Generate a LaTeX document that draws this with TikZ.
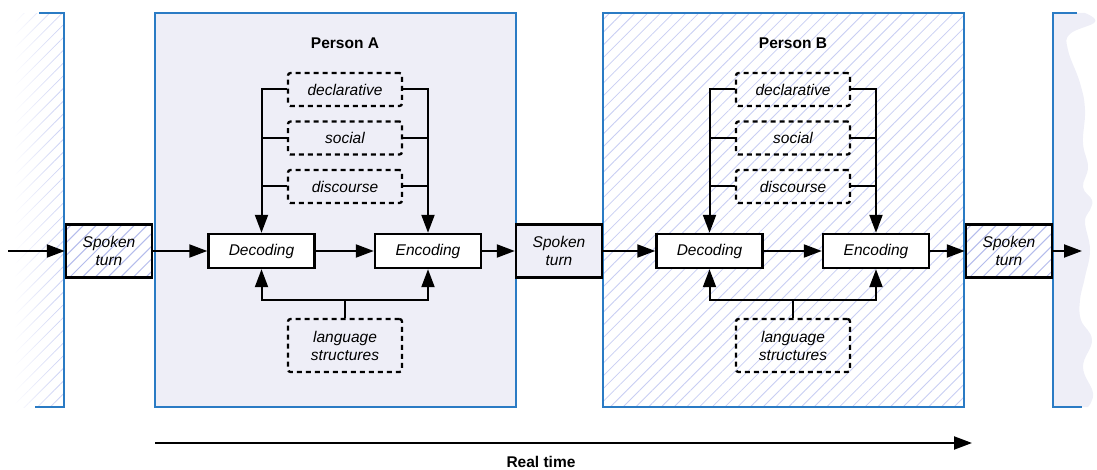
\documentclass[tikz,border=0pt]{standalone}
\usepackage{fontspec}
\setmainfont{Liberation Sans}
\usetikzlibrary{arrows.meta,patterns.meta,fadings}
\definecolor{bblue}{RGB}{42,123,196}
\definecolor{lav}{RGB}{238,238,247}
\definecolor{hatchc}{RGB}{200,206,243}
\definecolor{hatchd}{RGB}{180,188,236}
\newcommand\dfs{\fontsize{15.5}{18}\selectfont}
\tikzset{
  hatch/.style={pattern={Lines[angle=45,distance=9pt,line width=0.8pt]},pattern color=hatchc},
  hatchline/.style={draw=hatchd,line width=1pt},
  proc/.style={draw,line width=2.4pt,minimum width=106pt,minimum height=34pt,inner sep=0pt,font=\dfs\itshape,fill=white},
  turnbox/.style={draw,line width=2.4pt,minimum width=86pt,minimum height=53pt,inner sep=0pt,font=\dfs\itshape,align=center},
  infobox/.style={draw,dash pattern=on 5pt off 4pt,line width=2.3pt,rounded corners=2.5pt,minimum width=114pt,inner sep=0pt,font=\dfs\itshape,align=center},
  arr/.style={line width=2pt,-{Triangle[length=18pt,width=13pt]}},
  conn/.style={line width=2pt},
  personbox/.style={draw=bblue,line width=2.8pt},
  plabel/.style={font=\dfs\bfseries},
}
\begin{document}
\begin{tikzpicture}[x=1pt,y=-1pt]
\useasboundingbox (0,0) rectangle (1097,470);
% left partial box
\fill[hatch,path fading=west] (14,13) rectangle (64,407);
\draw[bblue,line width=2.8pt] (39,13) -- (64,13) -- (64,407) -- (35,407);
% right partial box
\fill[lav] (1054,13) -- (1085,13) -- plot[smooth,tension=0.7] coordinates {(1085,13) (1095,22) (1070,34) (1068,50) (1080,83) (1085,110) (1083,143) (1088,167) (1083,187) (1092,200) (1090,210) (1085,222) (1090,250) (1085,277) (1080,300) (1081,320) (1092,340) (1083,367) (1093,393) (1088,407)} -- (1054,407) -- cycle;
\draw[bblue,line width=2.8pt] (1077,13) -- (1053,13) -- (1053,407) -- (1082,407);
% person boxes
\fill[lav] (155,13) rectangle (516,407);
\draw[personbox] (155,13) rectangle (516,407);
\fill[white] (603,13) rectangle (964,407);
\fill[hatch] (603,13) rectangle (964,407);
\draw[personbox] (603,13) rectangle (964,407);
\node[plabel] (pA) at (345,43) {Person A};
\node[plabel] (pB) at (793,43) {Person B};
% hatch behind the outer spoken turns
\foreach \cx in {109,1009}{
  \begin{scope}
    \clip (\cx-43,224.5) rectangle (\cx+43,277.5);
    \fill[white] (\cx-43,224.5) rectangle (\cx+43,277.5);
    \foreach \k in {-60,-47.3,...,100}
      \draw[hatchline] (\cx-43+\k,277.5) -- ++(60,-60);
  \end{scope}
}
% spoken turns
\node[turnbox] (st1) at (109,251) {Spoken\\turn};
\node[turnbox,fill=lav] (st2) at (559,251) {Spoken\\turn};
\node[turnbox] (st3) at (1009,251) {Spoken\\turn};
% person A
\node[proc] (decA) at (261.5,251) {Decoding};
\node[proc] (encA) at (428,251) {Encoding};
\node[infobox,minimum height=33pt] (dclA) at (345,89.5) {declarative};
\node[infobox,minimum height=33pt] (socA) at (345,138) {social};
\node[infobox,minimum height=33pt] (disA) at (345,186.5) {discourse};
\node[infobox,minimum height=53pt] (lngA) at (345,345.5) {language\\structures};
% person B
\node[proc] (decB) at (709.5,251) {Decoding};
\node[proc] (encB) at (876,251) {Encoding};
\node[infobox,minimum height=33pt] (dclB) at (793,89.5) {declarative};
\node[infobox,minimum height=33pt] (socB) at (793,138) {social};
\node[infobox,minimum height=33pt] (disB) at (793,186.5) {discourse};
\node[infobox,minimum height=53pt] (lngB) at (793,345.5) {language\\structures};
% flow
\coordinate (in0) at (8,251);
\coordinate (out0) at (1082,251);
\draw[arr] (in0) -- (st1.west);
\draw[arr] (st1.east) -- (decA.west);
\draw[arr] (decA.east) -- (encA.west);
\draw[arr] (encA.east) -- (st2.west);
\draw[arr] (st2.east) -- (decB.west);
\draw[arr] (decB.east) -- (encB.west);
\draw[arr] (encB.east) -- (st3.west);
\draw[arr] (st3.east) -- (out0);
% knowledge buses
\foreach \p in {A,B}{
  \draw[arr] (dcl\p.west) -| (dec\p.north);
  \draw[arr] (dcl\p.east) -| (enc\p.north);
  \draw[conn] (soc\p.west) -- (soc\p.west -| dec\p.north);
  \draw[conn] (dis\p.west) -- (dis\p.west -| dec\p.north);
  \draw[conn] (soc\p.east) -- (soc\p.east -| enc\p.north);
  \draw[conn] (dis\p.east) -- (dis\p.east -| enc\p.north);
  \coordinate (j\p) at ([yshift=18pt]lng\p.north);
  \draw[conn] (lng\p.north) -- (j\p);
  \draw[arr] (j\p) -| (dec\p.south);
  \draw[arr] (j\p) -| (enc\p.south);
}
% real time
\coordinate (rt0) at (155,443);
\coordinate (rt1) at (972,443);
\draw[arr] (rt0) -- (rt1);
\node[plabel] (rtl) at (541,462) {Real time};
\end{tikzpicture}
\end{document}
